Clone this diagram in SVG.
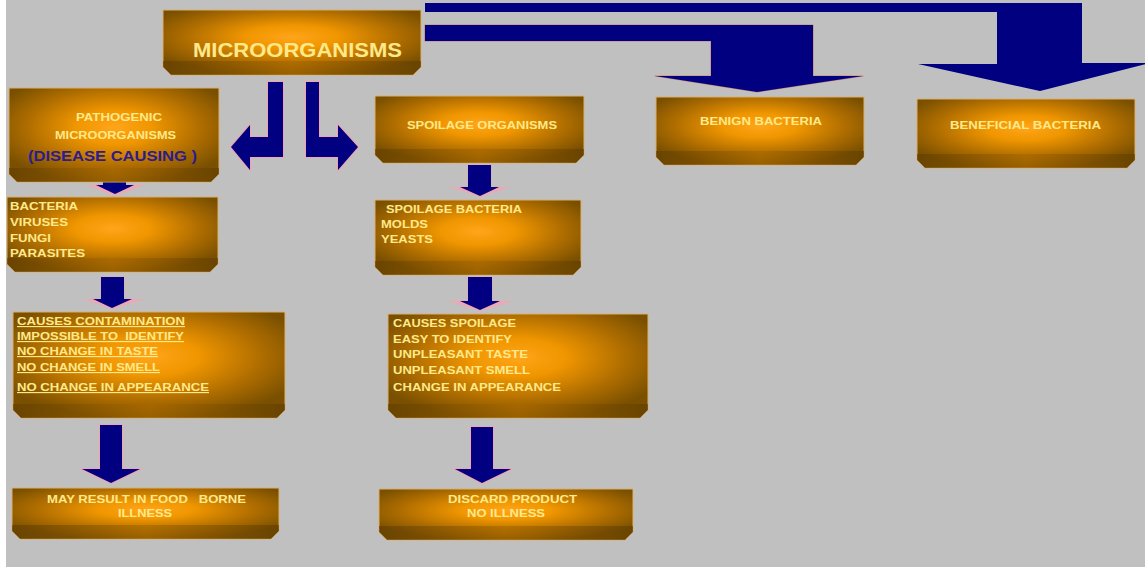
<svg xmlns="http://www.w3.org/2000/svg" width="1145" height="571" viewBox="0 0 1145 571">
<style>
.box{fill:url(#boxG);stroke:#d9b070;stroke-width:1}
.band{fill:url(#bandG);opacity:.6}
.t{font-family:"Liberation Sans",Arial,sans-serif;font-weight:bold;font-size:11.5px;fill:#ffe98a}
.u{text-decoration:underline}
.arr{fill:#000080;stroke:#ff9aae;stroke-width:2;stroke-linejoin:round;stroke-opacity:.8;paint-order:stroke}
.glow{fill:#f5a3b3;opacity:.85}
</style>
<defs>
<radialGradient id="boxG" cx="50%" cy="42%" r="60%">
<stop offset="0" stop-color="#ffa51a"/>
<stop offset="0.3" stop-color="#f09600"/>
<stop offset="0.7" stop-color="#ad6c00"/>
<stop offset="1" stop-color="#7a5000"/>
</radialGradient>
<linearGradient id="bandG" x1="0" y1="0" x2="1" y2="0">
<stop offset="0" stop-color="#5e3c00"/>
<stop offset="0.5" stop-color="#a86800"/>
<stop offset="1" stop-color="#5e3c00"/>
</linearGradient>
</defs>
<rect x="0" y="0" width="1145" height="571" fill="#ffffff"/>
<rect x="6" y="0" width="1139" height="567" fill="#c0c0c0"/>

<g id="connectors">
<polygon class="arr" style="stroke:none" points="425,3 1082,3 1082,63 1150,63 1040,91 918,64 997,64 997,12 425,12"/>
<polygon class="arr" style="stroke:#d8704f;stroke-width:1.2" points="425,25 813,25 813,76 863,76 757,92 655,76 711,76 711,41 425,41"/>
<polygon class="arr" points="268,82 283,82 283,157 250,157 250,170 231,147 250,125 250,137 268,137"/>
<polygon class="arr" points="306,82 319,82 319,137 338,137 338,125 358,147 338,170 338,157 306,157"/>
<polygon class="glow" points="86,185 145,185 115,196"/>
<polygon class="arr" style="stroke-width:1" points="103,169 126,169 126,185 134,185 115,194 96,185 103,185"/>
<polygon class="glow" points="83,299 145,299 112,309"/>
<polygon class="arr" style="stroke-width:1" points="101,277 124,277 124,299 132,299 112,308 93,299 101,299"/>
<polygon class="glow" points="450,187 510,187 480,197"/>
<polygon class="arr" style="stroke-width:1" points="468,165 491,165 491,187 499,187 480,196 460,187 468,187"/>
<polygon class="glow" points="448,301 513,301 480,311"/>
<polygon class="arr" style="stroke-width:1" points="468,277 492,277 492,301 500,301 480,310 460,301 468,301"/>
<polygon class="arr" points="100,425 122,425 122,469 140,469 111,483 82,469 100,469"/>
<polygon class="arr" points="471,427 493,427 493,469 511,469 482,483 455,469 471,469"/>
</g>

<g id="microorganisms">
<path class="box" d="M163 10 H421 V67 L413 75 H171 L163 67 Z"/>
<path class="band" d="M163 61 H421 V67 L413 75 H171 L163 67 Z"/>
<text class="t" x="193" y="57" style="font-size:19.5px" textLength="209" lengthAdjust="spacingAndGlyphs">MICROORGANISMS</text>
</g>

<g id="pathogenic">
<path class="box" d="M9 88 H219 V174 L211 182 H17 L9 174 Z"/>
<path class="band" d="M9 168 H219 V174 L211 182 H17 L9 174 Z"/>
<text class="t" x="76" y="121" textLength="86" lengthAdjust="spacingAndGlyphs">PATHOGENIC</text>
<text class="t" x="55" y="139" textLength="121" lengthAdjust="spacingAndGlyphs">MICROORGANISMS</text>
<text class="t" x="28" y="161" style="font-size:15px;fill:#2c1c8e" textLength="169" lengthAdjust="spacingAndGlyphs">(DISEASE CAUSING )</text>
</g>

<g id="spoilage">
<path class="box" d="M375 96 H584 V155 L576 163 H383 L375 155 Z"/>
<path class="band" d="M375 149 H584 V155 L576 163 H383 L375 155 Z"/>
<text class="t" x="407" y="129" textLength="150" lengthAdjust="spacingAndGlyphs">SPOILAGE ORGANISMS</text>
</g>

<g id="benign">
<path class="box" d="M656 97 H864 V157 L856 165 H664 L656 157 Z"/>
<path class="band" d="M656 151 H864 V157 L856 165 H664 L656 157 Z"/>
<text class="t" x="700" y="125" textLength="122" lengthAdjust="spacingAndGlyphs">BENIGN BACTERIA</text>
</g>

<g id="beneficial">
<path class="box" d="M917 99 H1135 V160 L1127 168 H925 L917 160 Z"/>
<path class="band" d="M917 154 H1135 V160 L1127 168 H925 L917 160 Z"/>
<text class="t" x="950" y="129" textLength="151" lengthAdjust="spacingAndGlyphs">BENEFICIAL BACTERIA</text>
</g>

<g id="pathogen-types">
<path class="box" d="M7 197 H218 V264 L210 272 H15 L7 264 Z"/>
<path class="band" d="M7 258 H218 V264 L210 272 H15 L7 264 Z"/>
<text class="t" x="10" y="210" textLength="68" lengthAdjust="spacingAndGlyphs">BACTERIA</text>
<text class="t" x="10" y="226" textLength="58" lengthAdjust="spacingAndGlyphs">VIRUSES</text>
<text class="t" x="10" y="242" textLength="41" lengthAdjust="spacingAndGlyphs">FUNGI</text>
<text class="t" x="10" y="257" textLength="75" lengthAdjust="spacingAndGlyphs">PARASITES</text>
</g>

<g id="spoilage-types">
<path class="box" d="M375 200 H581 V267 L573 275 H383 L375 267 Z"/>
<path class="band" d="M375 261 H581 V267 L573 275 H383 L375 267 Z"/>
<text class="t" x="386" y="213" textLength="136" lengthAdjust="spacingAndGlyphs">SPOILAGE BACTERIA</text>
<text class="t" x="381" y="228" textLength="47" lengthAdjust="spacingAndGlyphs">MOLDS</text>
<text class="t" x="381" y="243" textLength="52" lengthAdjust="spacingAndGlyphs">YEASTS</text>
</g>

<g id="pathogen-effects">
<path class="box" d="M13 312 H285 V410 L277 418 H21 L13 410 Z"/>
<path class="band" d="M13 404 H285 V410 L277 418 H21 L13 410 Z"/>
<text class="t u" x="17" y="325" textLength="168" lengthAdjust="spacingAndGlyphs">CAUSES CONTAMINATION</text>
<text class="t u" x="17" y="340" textLength="167" lengthAdjust="spacingAndGlyphs" xml:space="preserve">IMPOSSIBLE TO  IDENTIFY</text>
<text class="t u" x="17" y="355" textLength="141" lengthAdjust="spacingAndGlyphs">NO CHANGE IN TASTE</text>
<text class="t u" x="17" y="371" textLength="143" lengthAdjust="spacingAndGlyphs">NO CHANGE IN SMELL</text>
<text class="t u" x="17" y="391" textLength="192" lengthAdjust="spacingAndGlyphs">NO CHANGE IN APPEARANCE</text>
</g>

<g id="spoilage-effects">
<path class="box" d="M388 314 H648 V410 L640 418 H396 L388 410 Z"/>
<path class="band" d="M388 404 H648 V410 L640 418 H396 L388 410 Z"/>
<text class="t" x="393" y="327" textLength="123" lengthAdjust="spacingAndGlyphs">CAUSES SPOILAGE</text>
<text class="t" x="393" y="343" textLength="119" lengthAdjust="spacingAndGlyphs">EASY TO IDENTIFY</text>
<text class="t" x="393" y="358" textLength="135" lengthAdjust="spacingAndGlyphs">UNPLEASANT TASTE</text>
<text class="t" x="393" y="374" textLength="137" lengthAdjust="spacingAndGlyphs">UNPLEASANT SMELL</text>
<text class="t" x="393" y="391" textLength="168" lengthAdjust="spacingAndGlyphs">CHANGE IN APPEARANCE</text>
</g>

<g id="foodborne-illness">
<path class="box" d="M12 488 H279 V531 L271 539 H20 L12 531 Z"/>
<path class="band" d="M12 525 H279 V531 L271 539 H20 L12 531 Z"/>
<text class="t" x="47" y="503" textLength="199" lengthAdjust="spacingAndGlyphs" xml:space="preserve">MAY RESULT IN FOOD   BORNE</text>
<text class="t" x="118" y="517" textLength="54" lengthAdjust="spacingAndGlyphs">ILLNESS</text>
</g>

<g id="discard">
<path class="box" d="M379 489 H633 V532 L625 540 H387 L379 532 Z"/>
<path class="band" d="M379 526 H633 V532 L625 540 H387 L379 532 Z"/>
<text class="t" x="448" y="503" textLength="129" lengthAdjust="spacingAndGlyphs">DISCARD PRODUCT</text>
<text class="t" x="467" y="517" textLength="78" lengthAdjust="spacingAndGlyphs">NO ILLNESS</text>
</g>
</svg>
